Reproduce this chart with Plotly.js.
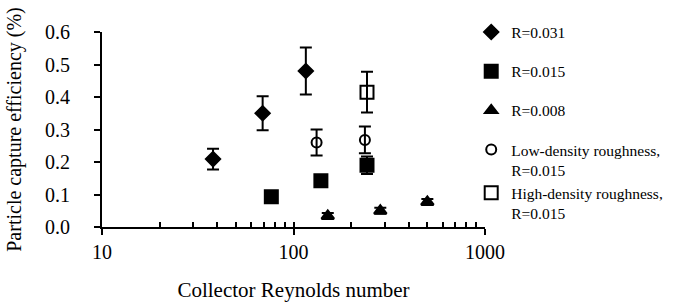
<!DOCTYPE html>
<html>
<head>
<meta charset="utf-8">
<script src="https://cdn.plot.ly/plotly-3.0.1.min.js"></script>
<style>
html,body{margin:0;padding:0;background:#fff;}
#chart{width:681px;height:302px;}
</style>
</head>
<body>
<div id="chart"></div>
<script>
// Data
const names = ["R=0.031", "R=0.015", "R=0.008", "Low-density roughness,<br>R=0.015", "High-density roughness,<br>R=0.015"];
const symbols = ["diamond", "square", "triangle-up", "circle-open", "square-open"];

const re031 = [38, 69, 116];
const eff031 = [0.209, 0.350, 0.480];
const err031 = [0.032, 0.052, 0.072];

const re015 = [76.6, 139, 242];
const eff015 = [0.093, 0.142, 0.190];
const err015 = [0.006, 0.008, 0.027];

const re008 = [151, 284, 500];
const eff008 = [0.034, 0.050, 0.077];
const err008 = [0.009, 0.009, 0.009];

const reLow = [132, 236];
const effLow = [0.260, 0.268];
const errLow = [0.040, 0.041];

const reHigh = [242];
const effHigh = [0.415];
const errHigh = [0.063];

const xTickVals = [10, 100, 1000];
const xTickText = ["10", "100", "1000"];
const xMinorVals = [10,20,30,40,50,60,70,80,90,100,200,300,400,500,600,700,800,900,1000];
const yTickVals = [0, 0.1, 0.2, 0.3, 0.4, 0.5, 0.6];

const FONT = "Liberation Serif, Times New Roman, serif";
const sizes = [11, 13, 11, 10, 13];
const groups = ["a", "b", "c", "d", "d"];

const xs = [re031, re015, re008, reLow, reHigh];
const ys = [eff031, eff015, eff008, effLow, effHigh];
const es = [err031, err015, err008, errLow, errHigh];

const traces = xs.map((x, i) => ({
  type: "scatter",
  mode: "markers",
  name: names[i],
  x: x,
  y: ys[i],
  legendgroup: groups[i],
  marker: {symbol: symbols[i], size: sizes[i], color: "#000", line: {color: "#000", width: 2}},
  error_y: {type: "data", array: es[i], visible: true, color: "#000", thickness: 2, width: 6}
}));
// helper axis for inside (minor + major) ticks
traces.push({type: "scatter", x: [], y: [], xaxis: "x2", yaxis: "y", showlegend: false, hoverinfo: "skip"});

const layout = {
  width: 681, height: 302,
  margin: {l: 102, r: 196, t: 32, b: 75, autoexpand: false},
  paper_bgcolor: "#fff", plot_bgcolor: "#fff",
  font: {family: FONT, color: "#000", size: 20},
  showlegend: true,
  legend: {
    x: 0.964, y: 1.085, xanchor: "left", yanchor: "top",
    font: {family: FONT, size: 15.5, color: "#000"},
    traceorder: "grouped", tracegroupgap: 16, itemwidth: 30,
    valign: "top",
    maxheight: 1,
    bgcolor: "rgba(0,0,0,0)"
  },
  xaxis: {
    type: "log", range: [1, 3],
    tickvals: xTickVals, ticktext: xTickText,
    ticks: "outside", ticklen: 6, tickwidth: 2, tickcolor: "#000",
    ticklabelstandoff: 0,
    showline: true, linewidth: 2, linecolor: "#000",
    showgrid: false, zeroline: false, automargin: false,
    tickfont: {family: FONT, size: 20},
    title: {text: "Collector Reynolds number", font: {family: FONT, size: 21}, standoff: 21}
  },
  xaxis2: {
    type: "log", range: [1, 3], overlaying: "x", anchor: "y", side: "bottom",
    tickvals: xMinorVals, showticklabels: false,
    ticks: "inside", ticklen: 5, tickwidth: 2, tickcolor: "#000",
    showline: false, showgrid: false, zeroline: false
  },
  yaxis: {
    range: [0, 0.6],
    tickvals: yTickVals, tickformat: ".1f",
    ticks: "outside", ticklen: 6, tickwidth: 2, tickcolor: "#000",
    ticklabelstandoff: 20,
    showline: true, linewidth: 2, linecolor: "#000",
    showgrid: false, zeroline: false, automargin: false,
    tickfont: {family: FONT, size: 20},
    title: {text: "Particle capture efficiency (%)", font: {family: FONT, size: 20}, standoff: 18}
  }
};

Plotly.newPlot("chart", traces, layout, {displayModeBar: false, staticPlot: true});
</script>
</body>
</html>
